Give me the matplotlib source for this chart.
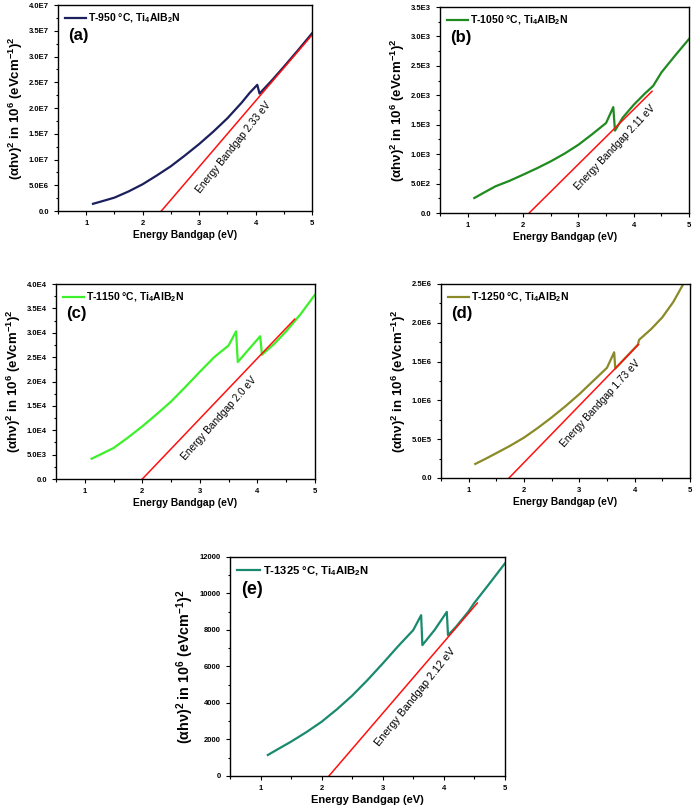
import matplotlib
matplotlib.use('Agg')
import matplotlib.pyplot as plt
from matplotlib.ticker import AutoMinorLocator
import numpy as np

plt.rcParams['font.family'] = ['Liberation Sans', 'DejaVu Sans']
plt.rcParams['mathtext.fontset'] = 'custom'
plt.rcParams['mathtext.rm'] = 'Liberation Sans:bold'
plt.rcParams['mathtext.it'] = 'Liberation Sans:bold'
plt.rcParams['mathtext.bf'] = 'Liberation Sans:bold'

# (a) T-950
a_x = [1.12, 1.25, 1.5, 1.75, 2.0, 2.25, 2.5, 2.75, 3.0, 3.25, 3.5, 3.75, 3.9, 4.03, 4.07, 4.3, 4.5, 4.75, 5.0]
a_y = [1.4e6, 1.8e6, 2.6e6, 3.8e6, 5.2e6, 6.9e6, 8.7e6, 1.08e7, 1.3e7, 1.54e7, 1.8e7, 2.1e7, 2.3e7, 2.45e7, 2.28e7, 2.55e7, 2.8e7, 3.12e7, 3.45e7]
a_gap, a_slope, a_end = 2.33, 1.28e7, 5.0

# (b) T-1050
b_x = [1.12, 1.3, 1.5, 1.75, 2.0, 2.25, 2.5, 2.75, 3.0, 3.25, 3.5, 3.63, 3.66, 3.8, 4.0, 4.2, 4.35, 4.5, 4.75, 5.0]
b_y = [255, 350, 453, 545, 651, 760, 878, 1010, 1160, 1340, 1530, 1800, 1400, 1620, 1840, 2030, 2160, 2390, 2680, 2960]
b_gap, b_slope, b_end = 2.11, 932, 4.33

# (c) T-1150
c_x = [1.12, 1.3, 1.5, 1.75, 2.0, 2.25, 2.5, 2.75, 3.0, 3.25, 3.5, 3.63, 3.66, 3.85, 4.05, 4.08, 4.3, 4.5, 4.75, 5.0]
c_y = [4170, 5200, 6360, 8500, 10800, 13300, 15900, 18900, 22000, 25000, 27400, 30300, 24000, 26600, 29300, 25500, 27800, 30300, 33800, 37800]
c_gap, c_slope, c_end = 2.0, 12380, 4.65

# (d) T-1250
d_x = [1.12, 1.3, 1.5, 1.75, 2.0, 2.25, 2.5, 2.75, 3.0, 3.25, 3.5, 3.63, 3.65, 4.06, 4.08, 4.3, 4.5, 4.7, 4.88]
d_y = [1.81e5, 2.45e5, 3.2e5, 4.15e5, 5.2e5, 6.45e5, 7.8e5, 9.25e5, 1.08e6, 1.25e6, 1.42e6, 1.62e6, 1.41e6, 1.72e6, 1.78e6, 1.92e6, 2.07e6, 2.27e6, 2.5e6]
d_gap, d_slope, d_end = 1.73, 7.35e5, 4.07

# (e) T-1325
e_x = [1.12, 1.3, 1.5, 1.75, 2.0, 2.25, 2.5, 2.75, 3.0, 3.25, 3.5, 3.63, 3.65, 3.85, 4.05, 4.07, 4.2, 4.4, 4.5, 4.75, 5.0]
e_y = [1150, 1500, 1880, 2400, 2970, 3650, 4400, 5250, 6160, 7100, 7990, 8810, 7170, 8000, 8990, 7710, 8170, 8990, 9480, 10550, 11640]
e_gap, e_slope, e_end = 2.12, 3900, 4.55

# label, temp, x, y, gap, slope, line end, colour, ymax, ystep, tick fmt, axes rect, gap text, text pos, font scale
panels = [
    ('a', 'T-950', a_x, a_y, a_gap, a_slope, a_end, '#1b1f5c', 4.0e7, 0.5e7, 'E',
     [0.0836, 0.7395, 0.366, 0.2543], '2.33', 0.41, 1.0),
    ('b', 'T-1050', b_x, b_y, b_gap, b_slope, b_end, '#1f8a1f', 3.5e3, 0.5e3, 'E',
     [0.634, 0.737, 0.359, 0.2543], '2.11', 0.62, 1.0),
    ('c', 'T-1150', c_x, c_y, c_gap, c_slope, c_end, '#3cf02a', 4.0e4, 0.5e4, 'E',
     [0.0807, 0.4086, 0.373, 0.2407], '2.0', 0.44, 1.0),
    ('d', 'T-1250', d_x, d_y, d_gap, d_slope, d_end, '#8a8a28', 2.5e6, 0.5e6, 'E',
     [0.6354, 0.4099, 0.3588, 0.2395], '1.73', 0.63, 1.0),
    ('e', 'T-1325', e_x, e_y, e_gap, e_slope, e_end, '#1a8a6e', 12000, 2000, 'd',
     [0.3314, 0.042, 0.396, 0.2704], '2.12', 0.51, 1.08),
]


def fmt_tick(v, f):
    if f == 'd':
        return '%d' % v
    if v == 0:
        return '0.0'
    m, e = ('%.1E' % v).split('E')
    return m + 'E' + str(int(e))


fig = plt.figure(figsize=(6.94, 8.10), dpi=100)

for lab, temp, xs, ys, gap, slope, xend, col, ymax, ystep, yf, rect, gtxt, frac, k in panels:
    ax = fig.add_axes(rect)
    ax.plot(xs, ys, color=col, lw=1.6,
            label=temp + ' °C, Ti$_4$AlB$_2$N')
    lx = np.array([gap, xend])
    ax.plot(lx, slope * (lx - gap), color='#ff1010', lw=1.1)
    ax.set_xlim(0.5, 5)
    ax.set_ylim(0, ymax)
    ax.set_xticks([1, 2, 3, 4, 5])
    yt = np.arange(0, ymax + ystep / 2, ystep)
    ax.set_yticks(yt)
    ax.set_yticklabels([fmt_tick(v, yf) for v in yt])
    ax.xaxis.set_minor_locator(AutoMinorLocator(2))
    ax.yaxis.set_minor_locator(AutoMinorLocator(2))
    ax.tick_params(which='both', direction='out', labelsize=5.5, width=0.8)
    ax.tick_params(which='major', length=3)
    ax.tick_params(which='minor', length=1.8)
    for t in ax.get_xticklabels() + ax.get_yticklabels():
        t.set_fontweight('bold')
    for s in ax.spines.values():
        s.set_linewidth(1.0)
    ax.set_xlabel('Energy Bandgap (eV)', fontsize=7.4 * k, fontweight='bold', labelpad=2)
    ax.set_ylabel('($\\alpha$h$\\nu$)$^2$ in 10$^6$ (eVcm$^{-1}$)$^2$',
                  fontsize=9.5 * k, fontweight='bold', labelpad=3)
    ax.legend(loc='upper left', frameon=False, handlelength=2.0,
              borderaxespad=0.25, handletextpad=0.25,
              prop={'weight': 'bold', 'size': 7.5 * k})
    ax.text(0.04, 0.85, '(' + lab + ')', transform=ax.transAxes,
            fontsize=12 * k, fontweight='bold', va='center', ha='left')

    # label along the red line, shifted to its lower right side
    p0 = ax.transData.transform((gap, 0))
    p1 = ax.transData.transform((xend, slope * (xend - gap)))
    d = (p1 - p0) / np.hypot(*(p1 - p0))
    ang = np.degrees(np.arctan2(d[1], d[0])) + 2
    xm = gap + frac * (xend - gap)
    ax.annotate('Energy Bandgap ' + gtxt + ' eV', (xm, slope * (xm - gap)),
                xytext=(14 * d[1], -14 * d[0]), textcoords='offset pixels',
                rotation=ang, rotation_mode='anchor', ha='center', va='center',
                fontsize=7.3 * k)

fig.savefig('out.png', dpi=100)
